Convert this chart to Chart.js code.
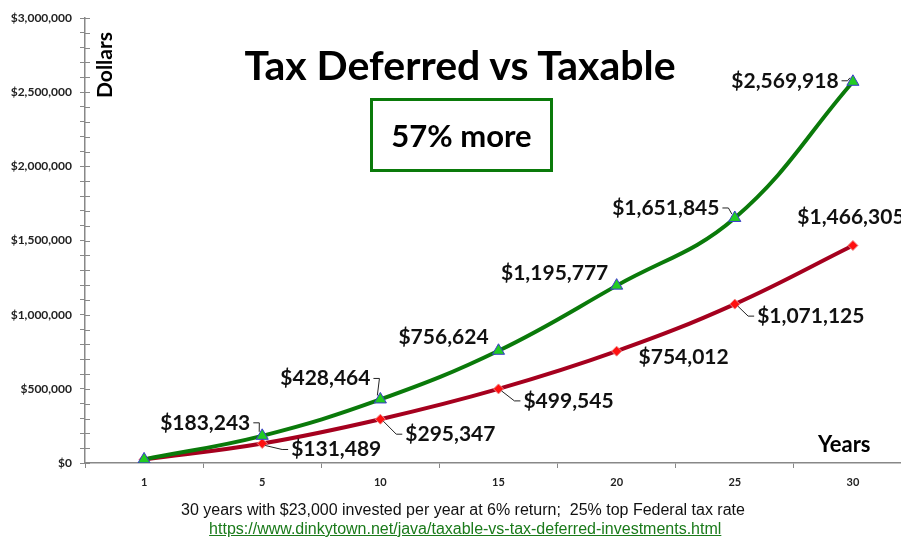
<!DOCTYPE html>
<html lang="en">
<head>
    <meta charset="UTF-8">
    <title>Tax Deferred vs Taxable</title>
    <style>
        * {
            margin: 0;
            padding: 0;
            box-sizing: border-box;
        }

        body {
            width: 901px;
            height: 541px;
            overflow: hidden;
            background: #fff;
            position: relative;
            font-family: 'Lato', sans-serif;
        }

        #wrap {
            position: absolute;
            left: 0;
            top: 0;
            width: 920px;
            height: 541px;
        }

        .title {
            position: absolute;
            left: 0;
            width: 920px;
            top: 40px;
            text-align: center;
            font-size: 41px;
            font-weight: bold;
            color: #000;
        }

        .box {
            position: absolute;
            left: 370px;
            top: 98px;
            width: 183px;
            height: 74px;
            border: 3px solid #0a7a0a;
            text-align: center;
            line-height: 68px;
            font-size: 31px;
            font-weight: bold;
        }

        .ylab {
            position: absolute;
            left: 91px;
            top: 98px;
            transform: rotate(-90deg);
            transform-origin: left top;
            font-size: 21px;
            font-weight: bold;
            white-space: nowrap;
        }

        .xlab {
            position: absolute;
            left: 818px;
            top: 430px;
            font-size: 22px;
            font-weight: bold;
        }

        .foot {
            position: absolute;
            left: 0;
            width: 926px;
            text-align: center;
            font-family: 'Liberation Sans', Arial, sans-serif;
            font-size: 16px;
            color: #111;
        }

        .foot a {
            color: #1a7a1a;
        }
    </style>
</head>
<body>

<div id="wrap"><canvas id="chart" width="920" height="541"></canvas></div>
<div class="title">Tax Deferred vs Taxable</div>
<div class="box">57% more</div>
<div class="ylab">Dollars</div>
<div class="xlab">Years</div>
<div class="foot" style="top: 501px;">30 years with $23,000 invested per year at 6% return;&nbsp; 25% top Federal tax rate</div>
<div class="foot" style="top: 520px;">&nbsp;<a href="#">https://www.dinkytown.net/java/taxable-vs-tax-deferred-investments.html</a></div>

<script src="https://cdn.jsdelivr.net/npm/chart.js"></script>
<script>
    // Data
    const years = ['1', '5', '10', '15', '20', '25', '30'];
    const taxDeferred = [24380, 183243, 428464, 756624, 1195777, 1651845, 2569918];
    const taxable = [24035, 131489, 295347, 499545, 754012, 1071125, 1466305];
    const yMax = 3000000;
    const yStep = 500000;

    const money = v => '$' + v.toLocaleString('en-US');

    // label placement (text centre relative to point) + whether to draw a leader
    const greenLabelPos = [null, [-57, -13, 1], [-55, -21, 1], [-55, -14, 0], [-62, -12, 0], [-69, -10, 1], [-68, -1, 1]];
    const redLabelPos = [null, [74, 6, 1], [70, 15, 1], [70, 12, 1], [67, 6, 0], [76, 12, 1], [-2, -28, 0]];

    const labelPlugin = {
        id: 'valueLabels',
        afterDatasetsDraw(chart) {
            const ctx = chart.ctx;
            ctx.save();
            ctx.font = 'bold 21px Lato';
            ctx.textAlign = 'center';
            ctx.textBaseline = 'middle';
            chart.data.datasets.forEach((ds, di) => {
                const pos = di === 0 ? greenLabelPos : redLabelPos;
                chart.getDatasetMeta(di).data.forEach((pt, i) => {
                    const p = pos[i];
                    if (!p) return;
                    const text = money(ds.data[i]);
                    const tx = pt.x + p[0], ty = pt.y + p[1];
                    if (p[2]) {
                        const w = ctx.measureText(text).width;
                        const left = p[0] < 0;
                        const sx = left ? tx + w / 2 + 3 : tx - w / 2 - 3;
                        const mx = left ? sx + 6 : sx - 6;
                        ctx.strokeStyle = '#222';
                        ctx.lineWidth = 1;
                        ctx.beginPath();
                        ctx.moveTo(sx, ty);
                        ctx.lineTo(mx, ty);
                        ctx.lineTo(pt.x + (left ? -3 : 3), pt.y + (p[1] < 0 ? -4 : 2));
                        ctx.stroke();
                    }
                    ctx.fillStyle = '#111';
                    ctx.fillText(text, tx, ty);
                });
            });
            ctx.restore();
        }
    };

    // small cross ticks on the value axis (inner side)
    const innerTicks = {
        id: 'innerTicks',
        afterDraw(chart) {
            const ctx = chart.ctx;
            const y = chart.scales.y;
            ctx.save();
            ctx.strokeStyle = '#888';
            ctx.lineWidth = 1;
            for (let v = 0; v <= yMax; v += 100000) {
                const py = Math.round(y.getPixelForValue(v)) + 0.5;
                ctx.beginPath();
                ctx.moveTo(y.right, py);
                ctx.lineTo(y.right + 5, py);
                ctx.stroke();
            }
            ctx.restore();
        }
    };

    const ctx = document.getElementById('chart').getContext('2d');
    new Chart(ctx, {
        type: 'line',
        data: {
            labels: years,
            datasets: [{
                label: 'Tax Deferred',
                data: taxDeferred,
                borderColor: '#0a7a0a',
                borderWidth: 4,
                tension: 0.4,
                pointStyle: 'triangle',
                pointRadius: 7,
                pointBackgroundColor: '#22cc22',
                pointBorderColor: '#3a3acc',
                pointBorderWidth: 1
            }, {
                label: 'Taxable',
                data: taxable,
                borderColor: '#a5001e',
                borderWidth: 4,
                tension: 0.4,
                pointStyle: 'rectRot',
                pointRadius: 5,
                pointBackgroundColor: '#ff1010',
                pointBorderColor: '#ee8888',
                pointBorderWidth: 1
            }]
        },
        options: {
            responsive: false,
            animation: false,
            layout: {
                padding: { top: 18, bottom: 48, left: 0, right: 0 }
            },
            plugins: {
                legend: { display: false },
                tooltip: { enabled: false }
            },
            scales: {
                x: {
                    offset: true,
                    afterFit: s => { s.height = 30; },
                    grid: {
                        offset: true,
                        drawOnChartArea: false,
                        tickLength: 5,
                        color: '#888'
                    },
                    border: { color: '#888', width: 1.5 },
                    ticks: {
                        color: '#222',
                        padding: 8,
                        font: { family: 'Lato', size: 11, weight: 'bold' }
                    }
                },
                y: {
                    min: 0,
                    max: yMax,
                    afterFit: s => { s.width = 85; },
                    grid: {
                        drawOnChartArea: false,
                        tickLength: 5,
                        color: '#888'
                    },
                    border: { color: '#888', width: 1.5 },
                    ticks: {
                        stepSize: 100000,
                        autoSkip: false,
                        color: '#222',
                        padding: 8,
                        font: { family: 'Lato', size: 12, weight: 'bold' },
                        callback: v => v % yStep === 0 ? money(v) : ''
                    }
                }
            }
        },
        plugins: [labelPlugin, innerTicks]
    });
</script>

</body>
</html>
